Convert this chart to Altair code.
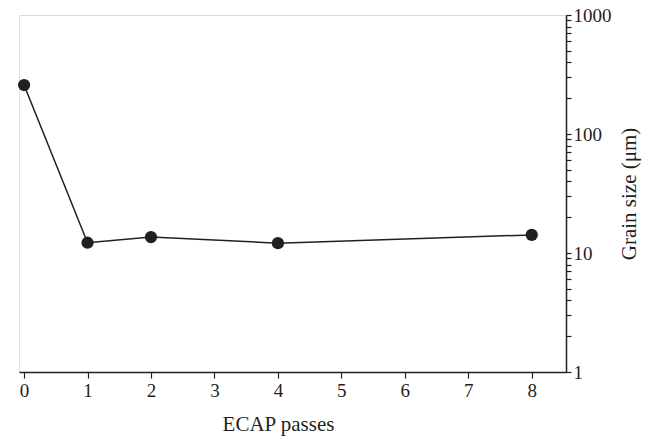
import altair as alt
import pandas as pd

passes = [0, 1, 2, 4, 8]
grain_um = [258, 12.2, 13.6, 12.1, 14.2]
x_ticks = [0, 1, 2, 3, 4, 5, 6, 7, 8]
y_ticks = [1, 2, 3, 4, 5, 6, 7, 8, 9,
           10, 20, 30, 40, 50, 60, 70, 80, 90,
           100, 200, 300, 400, 500, 600, 700, 800, 900, 1000]

df = pd.DataFrame({"passes": passes, "grain": grain_um})

ink = "#231f20"
font = "Liberation Serif"

x = alt.X("passes:Q",
          scale=alt.Scale(domain=[-0.08, 8.54], nice=False, zero=False),
          axis=alt.Axis(values=x_ticks, title="ECAP passes", format="d",
                        grid=False, domainColor=ink, domainWidth=1.5,
                        tickColor=ink, tickWidth=1.2, tickSize=6,
                        labelFont=font, labelFontSize=19, labelColor=ink,
                        labelPadding=3,
                        titleFont=font, titleFontSize=21, titleColor=ink,
                        titleFontWeight="normal", titlePadding=13,
                        titleX=259))
y = alt.Y("grain:Q",
          scale=alt.Scale(type="log", domain=[1, 1000], nice=False),
          axis=alt.Axis(orient="right", values=y_ticks,
                        labelExpr="(datum.value==1||datum.value==10||datum.value==100||datum.value==1000) ? datum.label : ''",
                        format="d",
                        title="Grain size (μm)", grid=False,
                        domainColor=ink, domainWidth=1.5,
                        tickColor=ink, tickWidth=1.2, tickSize=5,
                        labelFont=font, labelFontSize=19, labelColor=ink,
                        labelPadding=2, labelOverlap=False, labelBound=False,
                        labelFlush=False,
                        titleFont=font, titleFontSize=21, titleColor=ink,
                        titleFontWeight="normal", titleAngle=270,
                        titlePadding=28))

base = alt.Chart(df)
line = base.mark_line(color=ink, strokeWidth=1.5).encode(x=x, y=y)
pts = base.mark_circle(color=ink, opacity=1, size=150).encode(x=x, y=y)

chart = (line + pts).properties(
    width=547, height=357,
    autosize=alt.AutoSizeParams(type="none"),
    padding={"left": 11, "top": 7, "right": 76, "bottom": 70},
).configure_view(stroke=None).configure(background="white")

chart.save("out.html", embed_options={"renderer": "svg", "actions": False})
